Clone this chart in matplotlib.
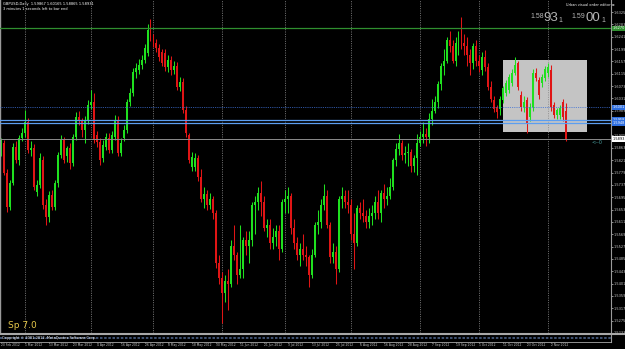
import matplotlib
matplotlib.use("Agg")
import matplotlib.pyplot as plt
from matplotlib.patches import Rectangle
import numpy as np

# ---------------- data (GBPUSD daily, 20 Feb 2012 .. 9 Nov 2012) ----------------
opens = [
1.5846,1.5878,1.5778,1.5662,1.5744,1.5866,1.5822,1.5897,1.5914,1.5951,
1.5856,1.5863,1.5712,1.5737,1.5822,1.5669,1.5628,1.5703,1.5662,1.5744,
1.5839,1.5890,1.5836,1.5863,1.5812,1.5900,1.5968,1.5958,1.5924,1.5958,
1.6009,1.6019,1.5907,1.5883,1.5829,1.5866,1.5897,1.5856,1.5900,1.5958,
1.5846,1.5897,1.5924,1.6019,1.6050,1.6121,1.6128,1.6145,1.6162,1.6186,
1.6271,1.6237,1.6220,1.6203,1.6189,1.6186,1.6138,1.6162,1.6128,1.6142,
1.6070,1.6087,1.5992,1.5907,1.5798,1.5798,1.5829,1.5764,1.5690,1.5705,
1.5670,1.5690,1.5640,1.5470,1.5420,1.5370,1.5410,1.5400,1.5530,1.5500,
1.5430,1.5450,1.5550,1.5530,1.5550,1.5670,1.5680,1.5710,1.5680,1.5590,
1.5600,1.5540,1.5560,1.5580,1.5520,1.5680,1.5690,1.5700,1.5590,1.5540,
1.5500,1.5520,1.5500,1.5490,1.5430,1.5500,1.5600,1.5610,1.5670,1.5700,
1.5600,1.5490,1.5510,1.5450,1.5690,1.5700,1.5680,1.5670,1.5570,1.5540,
1.5660,1.5640,1.5630,1.5610,1.5630,1.5640,1.5680,1.5640,1.5710,1.5690,
1.5700,1.5730,1.5820,1.5860,1.5880,1.5840,1.5845,1.5850,1.5800,1.5830,
1.5880,1.5900,1.5910,1.5900,1.5960,1.5990,1.6020,1.6080,1.6140,1.6160,
1.6230,1.6210,1.6160,1.6220,1.6230,1.6220,1.6210,1.6180,1.6150,1.6210,
1.6160,1.6128,1.6172,1.6138,1.6070,1.6026,1.6002,1.5995,1.6026,1.6050,
1.6060,1.6084,1.6118,1.6152,1.6043,1.6002,1.6026,1.5968,1.6002,1.6118,
1.6094,1.6084,1.6100,1.6118,1.6128,1.6009,1.5975,1.5975,1.6019,1.5987,
]
highs = [
1.5895,1.5890,1.5790,1.5755,1.5880,1.5885,1.5905,1.5930,1.5992,1.5965,
1.5885,1.5875,1.5755,1.5845,1.5835,1.5690,1.5715,1.5720,1.5755,1.5850,
1.5905,1.5900,1.5870,1.5880,1.5910,1.5985,1.5990,1.5965,1.5970,1.6025,
1.6060,1.6050,1.5920,1.5895,1.5890,1.5915,1.5915,1.5920,1.5975,1.5970,
1.5895,1.5940,1.6030,1.6065,1.6135,1.6150,1.6165,1.6180,1.6215,1.6284,
1.6301,1.6250,1.6235,1.6215,1.6200,1.6200,1.6180,1.6175,1.6160,1.6155,
1.6105,1.6100,1.6005,1.5915,1.5850,1.5845,1.5840,1.5790,1.5730,1.5720,
1.5710,1.5700,1.5650,1.5500,1.5440,1.5430,1.5450,1.5550,1.5600,1.5510,
1.5600,1.5560,1.5580,1.5580,1.5680,1.5700,1.5730,1.5750,1.5700,1.5620,
1.5620,1.5590,1.5600,1.5600,1.5690,1.5720,1.5730,1.5710,1.5620,1.5560,
1.5540,1.5570,1.5530,1.5500,1.5520,1.5610,1.5650,1.5690,1.5740,1.5720,
1.5610,1.5540,1.5530,1.5700,1.5730,1.5720,1.5720,1.5690,1.5640,1.5670,
1.5680,1.5690,1.5650,1.5660,1.5670,1.5700,1.5720,1.5720,1.5740,1.5730,
1.5760,1.5830,1.5880,1.5910,1.5890,1.5870,1.5880,1.5860,1.5840,1.5910,
1.5920,1.5950,1.5930,1.5980,1.6030,1.6040,1.6090,1.6150,1.6200,1.6240,
1.6260,1.6230,1.6240,1.6260,1.6309,1.6250,1.6240,1.6200,1.6220,1.6230,
1.6180,1.6190,1.6196,1.6150,1.6090,1.6040,1.6010,1.6040,1.6075,1.6095,
1.6115,1.6130,1.6172,1.6160,1.6055,1.6040,1.6035,1.6015,1.6130,1.6135,
1.6105,1.6115,1.6140,1.6150,1.6145,1.6020,1.6000,1.6010,1.6030,1.6017,
]
lows = [
1.5835,1.5770,1.5645,1.5650,1.5735,1.5810,1.5805,1.5885,1.5900,1.5845,
1.5835,1.5720,1.5700,1.5725,1.5655,1.5600,1.5610,1.5650,1.5650,1.5730,
1.5830,1.5810,1.5815,1.5790,1.5800,1.5890,1.5940,1.5900,1.5880,1.5945,
1.5995,1.5880,1.5865,1.5805,1.5815,1.5855,1.5845,1.5845,1.5890,1.5835,
1.5835,1.5885,1.5915,1.6005,1.6040,1.6100,1.6115,1.6130,1.6150,1.6175,
1.6225,1.6205,1.6190,1.6160,1.6140,1.6125,1.6120,1.6110,1.6115,1.6060,
1.6055,1.5980,1.5900,1.5810,1.5785,1.5785,1.5750,1.5680,1.5660,1.5650,
1.5655,1.5620,1.5455,1.5400,1.5268,1.5340,1.5310,1.5390,1.5480,1.5400,
1.5420,1.5420,1.5500,1.5470,1.5530,1.5570,1.5650,1.5630,1.5580,1.5560,
1.5520,1.5520,1.5530,1.5480,1.5510,1.5640,1.5640,1.5570,1.5520,1.5480,
1.5460,1.5480,1.5460,1.5390,1.5420,1.5490,1.5570,1.5590,1.5650,1.5590,
1.5470,1.5470,1.5400,1.5440,1.5660,1.5660,1.5640,1.5550,1.5450,1.5530,
1.5620,1.5610,1.5590,1.5590,1.5600,1.5620,1.5620,1.5610,1.5660,1.5670,
1.5690,1.5720,1.5800,1.5840,1.5820,1.5810,1.5800,1.5780,1.5780,1.5770,
1.5870,1.5880,1.5870,1.5880,1.5940,1.5980,1.6000,1.6060,1.6110,1.6150,
1.6190,1.6150,1.6140,1.6180,1.6200,1.6180,1.6140,1.6110,1.6130,1.6140,
1.6120,1.6110,1.6125,1.6060,1.6020,1.5985,1.5965,1.5975,1.6015,1.6040,
1.6050,1.6075,1.6110,1.6060,1.5990,1.5985,1.5915,1.5955,1.5990,1.6090,
1.6030,1.6070,1.6090,1.6105,1.5990,1.5965,1.5960,1.5960,1.5955,1.5887,
]
closes = [
1.5880,1.5778,1.5662,1.5744,1.5866,1.5822,1.5897,1.5914,1.5951,1.5856,
1.5863,1.5730,1.5737,1.5829,1.5669,1.5628,1.5703,1.5662,1.5744,1.5839,
1.5890,1.5822,1.5863,1.5812,1.5900,1.5968,1.5958,1.5924,1.5958,1.6009,
1.6019,1.5890,1.5883,1.5822,1.5873,1.5900,1.5856,1.5907,1.5958,1.5846,
1.5880,1.5924,1.6019,1.6050,1.6121,1.6135,1.6145,1.6162,1.6203,1.6264,
1.6237,1.6220,1.6203,1.6172,1.6152,1.6138,1.6162,1.6128,1.6142,1.6070,
1.6087,1.5992,1.5914,1.5822,1.5832,1.5829,1.5764,1.5690,1.5705,1.5670,
1.5690,1.5640,1.5470,1.5420,1.5370,1.5410,1.5400,1.5530,1.5500,1.5430,
1.5450,1.5550,1.5530,1.5550,1.5670,1.5680,1.5710,1.5680,1.5590,1.5600,
1.5540,1.5560,1.5580,1.5520,1.5680,1.5690,1.5700,1.5590,1.5540,1.5500,
1.5520,1.5500,1.5490,1.5430,1.5500,1.5600,1.5610,1.5670,1.5700,1.5600,
1.5490,1.5510,1.5450,1.5690,1.5700,1.5680,1.5670,1.5570,1.5540,1.5660,
1.5640,1.5630,1.5610,1.5630,1.5640,1.5680,1.5640,1.5710,1.5690,1.5700,
1.5730,1.5820,1.5860,1.5880,1.5840,1.5845,1.5850,1.5800,1.5830,1.5880,
1.5900,1.5910,1.5900,1.5960,1.5990,1.6020,1.6080,1.6140,1.6160,1.6230,
1.6210,1.6160,1.6220,1.6230,1.6220,1.6210,1.6180,1.6150,1.6210,1.6160,
1.6140,1.6172,1.6138,1.6070,1.6030,1.5995,1.5985,1.6030,1.6066,1.6083,
1.6104,1.6118,1.6145,1.6070,1.6002,1.6020,1.5948,1.6002,1.6118,1.6101,
1.6043,1.6104,1.6130,1.6138,1.6002,1.5975,1.5992,1.5999,1.5968,1.5893,
]

date_labels = ["20 Feb 2012", "1 Mar 2012", "13 Mar 2012", "23 Mar 2012", "4 Apr 2012",
               "16 Apr 2012", "26 Apr 2012", "8 May 2012", "18 May 2012", "30 May 2012",
               "11 Jun 2012", "21 Jun 2012", "3 Jul 2012", "13 Jul 2012", "25 Jul 2012",
               "6 Aug 2012", "16 Aug 2012", "28 Aug 2012", "7 Sep 2012", "19 Sep 2012",
               "1 Oct 2012", "11 Oct 2012", "23 Oct 2012", "2 Nov 2012"]
date_label_bars = [0, 8, 16, 24, 32, 40, 48, 56, 64, 72, 80, 88, 96, 104, 112,
                   120, 128, 136, 144, 152, 160, 168, 176, 184]
month_start_bars = [8, 30, 51, 74, 95, 117, 140, 160, 183]

price_ticks = [1.6325, 1.6283, 1.6241, 1.6199, 1.6157, 1.6115, 1.6073, 1.6031, 1.5989,
               1.5947, 1.5905, 1.5863, 1.5821, 1.5779, 1.5737, 1.5695, 1.5653, 1.5611,
               1.5569, 1.5527, 1.5485, 1.5443, 1.5401, 1.5359, 1.5317, 1.5275, 1.5233]

resistance_level = 1.6270
dotted_level = 1.6001
blue_levels = [1.5958, 1.5948]
bid_price = 1.58931
ask_price = 1.59001
box_bars = (167.9, 196.0)
box_prices = (1.5917, 1.6162)

assert len(opens) == len(highs) == len(lows) == len(closes) == 190

# ---------------- figure ----------------
W, H = 625, 349
fig = plt.figure(figsize=(W / 100, H / 100), dpi=100, facecolor="black")

def fx(px):
    return px / W

def fy(py):
    return 1 - py / H

BULL = "#1fe01f"
BEAR = "#e01515"
GRID = "#8a8a8a"
AXTXT = "#c8c8c8"
XLIM = (-0.33, 204.0)

ax = fig.add_axes([0, fy(333), 611 / W, 333 / H], facecolor="black")
x = np.arange(len(opens))
o = np.array(opens); h = np.array(highs); l = np.array(lows); c = np.array(closes)
ax.set_xlim(*XLIM)
ax.set_ylim(1.52338, 1.6366)

# background rectangle object
ax.add_patch(Rectangle((box_bars[0], box_prices[0]), box_bars[1] - box_bars[0],
                       box_prices[1] - box_prices[0], facecolor="#c4c4c4",
                       edgecolor="none", zorder=0.5))

# monthly vertical dotted grid
for b in month_start_bars:
    ax.axvline(b, color=GRID, lw=0.6, ls=(0, (1.2, 1.6)), zorder=1)

# candles
up = c >= o
cols = np.where(up, BULL, BEAR)
ax.vlines(x, l, h, colors=cols, lw=0.75, zorder=2)
body_lo = np.minimum(o, c)
body_h = np.maximum(np.abs(c - o), 0.00025)
ax.bar(x, body_h, bottom=body_lo, width=0.66, color=cols, edgecolor="none",
       linewidth=0, zorder=2.5)

# horizontal lines
ax.axhline(resistance_level, color="#2f8f2f", lw=0.9, zorder=3)
ax.axhline(dotted_level, color="#3d6fd6", lw=0.6, ls=(0, (1, 1.2)), zorder=3)
for lv in blue_levels:
    ax.axhline(lv, color="#5c9ef0", lw=0.9, zorder=3)
ax.axhline(bid_price, color="#8c8c8c", lw=0.7, zorder=3)

# axis styling
for s in ["top", "bottom"]:
    ax.spines[s].set_visible(False)
ax.spines["left"].set_color("#9a9a9a")
ax.spines["left"].set_linewidth(1.0)
ax.spines["right"].set_color("#9a9a9a")
ax.spines["right"].set_linewidth(0.8)
ax.set_xticks([])
ax.yaxis.tick_right()
ax.set_yticks(price_ticks)
ax.set_yticklabels([f"{p:.4f}" for p in price_ticks], fontsize=2.5, color=AXTXT)
ax.tick_params(axis="y", length=1.5, width=0.5, colors=AXTXT, pad=0.6)

# highlighted price labels on the axis
def axis_tag(price, txt, fc, tc):
    ax.text(1.0025, price, txt, transform=ax.get_yaxis_transform(), fontsize=2.5,
            color=tc, va="center", ha="left", clip_on=False, zorder=5,
            bbox=dict(facecolor=fc, edgecolor="none", pad=0.5))

axis_tag(resistance_level, f"{resistance_level:.4f}", "#2f8f2f", "white")
axis_tag(dotted_level, f"{dotted_level:.4f}", "#2f6fe0", "white")
axis_tag(blue_levels[0], f"{blue_levels[0]:.4f}", "#2f6fe0", "white")
axis_tag(blue_levels[1], f"{blue_levels[1]:.4f}", "#2f6fe0", "white")
axis_tag(bid_price, f"{bid_price:.4f}", "white", "black")

# ---------------- sub window + date axis ----------------
fig.add_artist(plt.Line2D([0, 1], [fy(334), fy(334)], color="#a8a8a8", lw=1.5))
axs = fig.add_axes([0, fy(341.5), 611 / W, 6.5 / H], facecolor="black")
axs.set_xlim(*XLIM)
axs.set_ylim(0, 1)
axs.axhline(0.5, color="#4a5f86", lw=1.2, ls=(0, (1.5, 1)))
for s in ["top", "left", "bottom"]:
    axs.spines[s].set_visible(False)
axs.spines["right"].set_color("#9a9a9a")
axs.spines["right"].set_linewidth(0.8)
axs.set_yticks([])
axs.set_xticks(date_label_bars)
axs.set_xticklabels(date_labels, fontsize=2.2, color=AXTXT)
axs.tick_params(axis="x", length=1.0, width=0.4, colors=AXTXT, pad=0.4)
for t in axs.get_xticklabels():
    t.set_horizontalalignment("left")
fig.add_artist(plt.Line2D([0, 611 / W], [fy(341.5), fy(341.5)], color="#a8a8a8", lw=0.6))

fig.text(fx(2), fy(338), "Copyright \u00a9 2001-2012, MetaQuotes Software Corp.",
         fontsize=2.5, color="white", va="center", ha="left")

# ---------------- overlay texts ----------------
fig.text(fx(3), fy(4), "GBPUSD,Daily  1.59867 1.60165 1.58865 1.58931",
         fontsize=2.6, color="white", va="center", ha="left")
fig.text(fx(3), fy(9), "3 minutes 1 seconds left to bar end",
         fontsize=2.6, color="white", va="center", ha="left")
fig.text(fx(566), fy(4.5), "Urban visual order editor \u2299", fontsize=2.5,
         color="white", va="center", ha="left")

big = dict(family="Liberation Sans", color="#b4b4b4")
bid_s = f"{bid_price:.5f}"
ask_s = f"{ask_price:.5f}"
fig.text(fx(530), fy(16), bid_s[:4], fontsize=5, va="center", ha="left", **big)
fig.text(fx(543), fy(18), bid_s[4:6], fontsize=9.5, va="center", ha="left", **big)
fig.text(fx(558), fy(20), bid_s[6:], fontsize=5, va="center", ha="left", **big)
fig.text(fx(571), fy(16), ask_s[:4], fontsize=5, va="center", ha="left", **big)
fig.text(fx(585), fy(18), ask_s[4:6], fontsize=9.5, va="center", ha="left", **big)
fig.text(fx(601), fy(20), ask_s[6:], fontsize=5, va="center", ha="left", **big)

fig.text(fx(592), fy(142), "<--0", fontsize=3.6, color="#4aa0a0", va="center", ha="left")
fig.text(fx(8), fy(326), "Sp 7.0", fontsize=6.5, color="#e6c84a", va="center", ha="left")

fig.savefig("out.png", dpi=100, facecolor="black")
